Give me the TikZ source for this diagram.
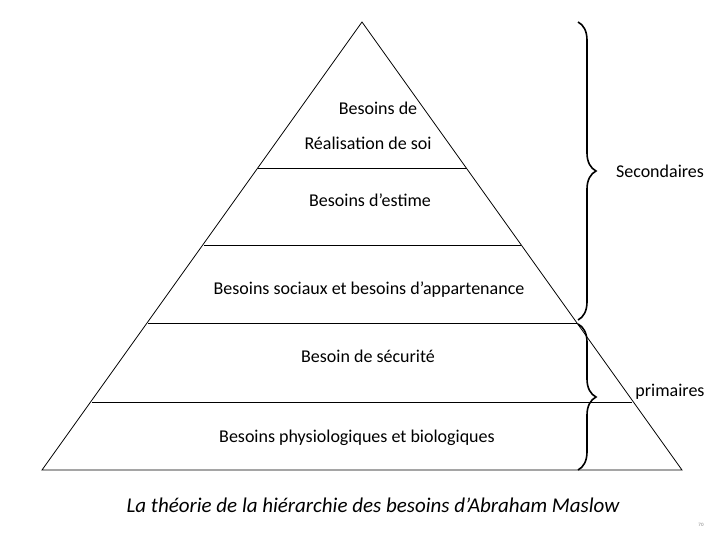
\documentclass[tikz,border=0pt]{standalone}
\usepackage{fontspec}
\setmainfont{Carlito}
\usetikzlibrary{decorations.pathreplacing}

\begin{document}
\begin{tikzpicture}[
    x=1pt, y=-1pt,
    label/.style={font=\fontsize{18}{20}\selectfont, inner sep=1pt},
    level/.style={line width=0.8pt},
    bracket/.style={decorate, decoration={brace, amplitude=18pt}, line width=1.6pt}
]
    \useasboundingbox (0,0) rectangle (720,540);
    % pyramid
    \coordinate (top) at (362,22);
    \coordinate (bl) at (42,470);
    \coordinate (br) at (682,470);
    \draw[level] (top) -- (bl) -- (br) -- cycle;
    \draw[level] (258,168) -- (467,168);
    \draw[level] (204,245) -- (521,245);
    \draw[level] (148,323) -- (577,323);
    \draw[level] (92,402) -- (632,402);

    \node[label] (real1) at (378,108) {Besoins de};
    \node[label] (real2) at (368,143) {Réalisation de soi};
    \node[label] (estime) at (370,200) {Besoins d’estime};
    \node[label] (social) at (369,290) {Besoins sociaux et besoins d’appartenance};
    \node[label] (secu) at (368,356) {Besoin de sécurité};
    \node[label] (physio) at (357,438) {Besoins physiologiques et biologiques};

    % braces
    \coordinate (s1) at (578,22);
    \coordinate (s2) at (578,320);
    \coordinate (p1) at (578,324);
    \coordinate (p2) at (578,470);
    \draw[bracket] (s1) -- (s2);
    \draw[bracket] (p1) -- (p2);
    \node[label] (second) at (660,171) {Secondaires};
    \node[label] (prim) at (670,392) {primaires};

    \node[font=\fontsize{21}{24}\selectfont\itshape] (caption) at (373,505) {La théorie de la hiérarchie des besoins d’Abraham Maslow};
    \node[font=\fontsize{5}{6}\selectfont, gray] (page) at (701,525) {70};
\end{tikzpicture}
\end{document}
